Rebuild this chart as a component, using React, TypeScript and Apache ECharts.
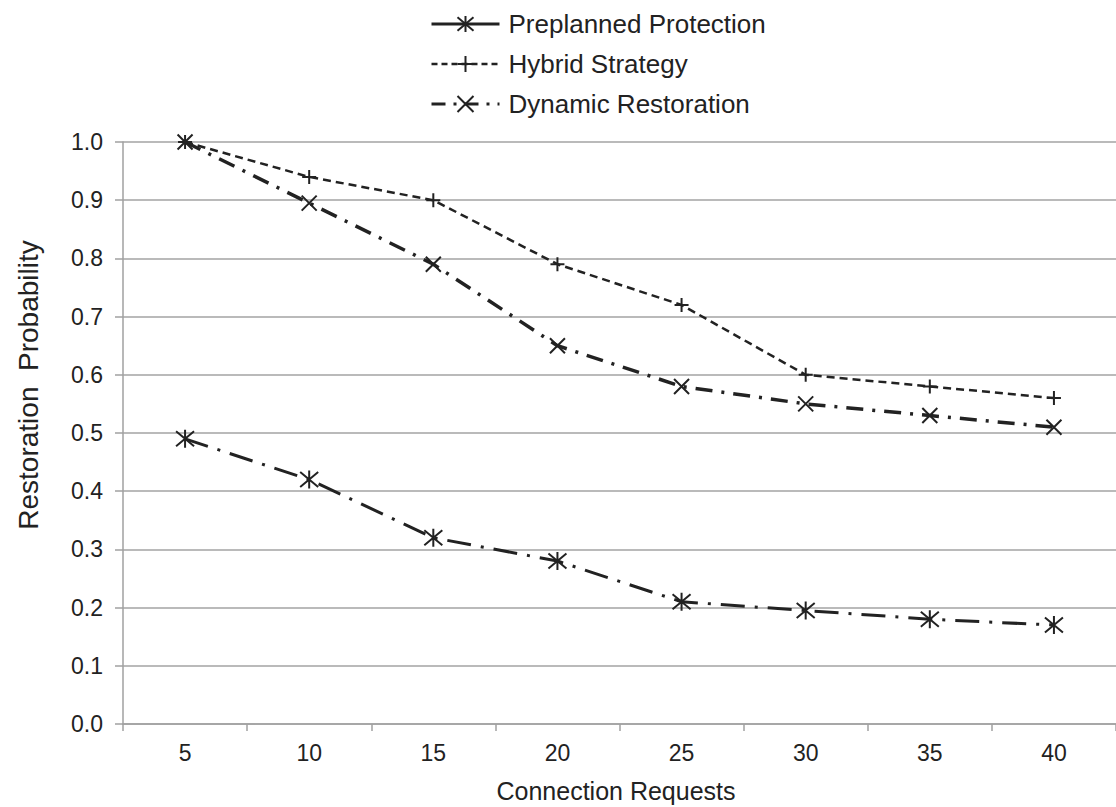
import React, { useEffect, useRef } from "react";
import * as echarts from "echarts";

const categories = ["5", "10", "15", "20", "25", "30", "35", "40"];
const preplanned = [0.49, 0.42, 0.32, 0.28, 0.21, 0.195, 0.18, 0.17];
const hybrid = [1.0, 0.94, 0.9, 0.79, 0.72, 0.6, 0.58, 0.56];
const dynamicRest = [1.0, 0.895, 0.79, 0.65, 0.58, 0.55, 0.53, 0.51];
const seriesNames = ["Preplanned Protection", "Hybrid Strategy", "Dynamic Restoration"];

const FONT = "'Liberation Sans', Arial, sans-serif";
const INK = "#222";

const SYM_ASTERISK = "path://M1,1L11,11M11,1L1,11M6,0L6,12";
const SYM_X = "path://M0,0L10,10M10,0L0,10";
const SYM_PLUS = "path://M5,0L5,10M0,5L10,5";

export default function App() {
  const ref = useRef<HTMLDivElement>(null);
  useEffect(() => {
    if (!ref.current) return;
    const chart = echarts.init(ref.current, null, { renderer: "svg" });
    const mkSeries = (name: string, data: number[], symbol: string, size: number, dash: number[], width: number) => ({
      name,
      type: "line",
      data,
      symbol,
      symbolSize: size,
      showAllSymbol: true,
      itemStyle: { color: "transparent", borderColor: INK, borderWidth: 2 },
      lineStyle: { color: INK, width, type: dash, cap: "butt" },
      emphasis: { disabled: true },
    });
    chart.setOption({
      animation: false,
      backgroundColor: "#fff",
      textStyle: { fontFamily: FONT },
      grid: { left: 123, top: 142, width: 997, height: 582, containLabel: false },
      legend: {
        orient: "vertical",
        left: 430,
        top: 11,
        padding: 0,
        itemWidth: 68,
        itemHeight: 20,
        itemGap: 14,
        textStyle: { fontSize: 26, lineHeight: 26, color: INK, fontFamily: FONT, padding: [0, 0, 0, 4] },
        data: [
          { name: seriesNames[0], lineStyle: { type: "solid", width: 3 } },
          { name: seriesNames[1], lineStyle: { type: [6, 4], width: 2.5 } },
          { name: seriesNames[2], lineStyle: { type: [14, 8, 3, 8], width: 3 } },
        ],
      },
      xAxis: {
        type: "category",
        data: categories,
        boundaryGap: true,
        axisLine: { lineStyle: { color: "#a0a0a0", width: 1.5 } },
        axisTick: { show: true, length: 7, lineStyle: { color: "#a0a0a0", width: 1.5 } },
        axisLabel: { fontSize: 23, color: INK, margin: 17, fontFamily: FONT },
        splitLine: { show: false },
      },
      yAxis: {
        type: "value",
        min: 0,
        max: 1,
        interval: 0.1,
        axisLine: { show: true, lineStyle: { color: "#a0a0a0", width: 1.5 } },
        axisTick: { show: true, length: 8, lineStyle: { color: "#a0a0a0", width: 1.5 } },
        axisLabel: { fontSize: 23, color: INK, margin: 20, fontFamily: FONT, formatter: (v: number) => v.toFixed(1) },
        splitLine: { show: true, lineStyle: { color: "#a3a3a3", width: 1.5 } },
      },
      graphic: [
        {
          type: "text",
          x: 616,
          y: 791,
          style: { text: "Connection Requests", fontSize: 25, fill: INK, fontFamily: FONT, textAlign: "center", textVerticalAlign: "middle" },
        },
        {
          type: "text",
          x: 28,
          y: 385,
          rotation: Math.PI / 2,
          style: { text: "Restoration  Probability", fontSize: 28, fill: INK, fontFamily: FONT, textAlign: "center", textVerticalAlign: "middle" },
        },
      ],
      series: [
        mkSeries(seriesNames[0], preplanned, SYM_ASTERISK, 18, [24, 10, 3, 10], 3),
        mkSeries(seriesNames[1], hybrid, SYM_PLUS, 14, [8, 5], 2.5),
        mkSeries(seriesNames[2], dynamicRest, SYM_X, 15, [17, 9, 3, 9], 3.5),
      ],
    });
    return () => chart.dispose();
  }, []);
  return <div ref={ref} style={{ position: "absolute", left: 0, top: 0, width: 1116, height: 807 }} />;
}
